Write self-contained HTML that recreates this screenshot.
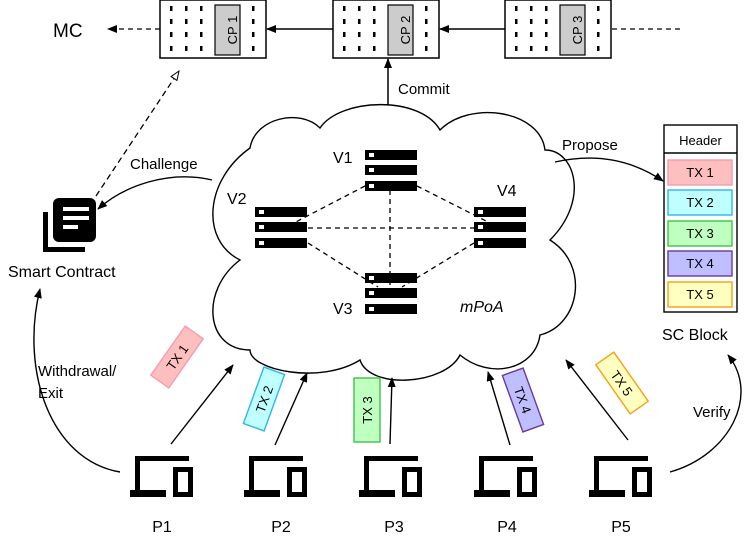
<!DOCTYPE html>
<html><head><meta charset="utf-8"><style>
html,body{margin:0;padding:0;background:#fff}
svg{display:block}
text{font-family:"Liberation Sans",sans-serif;fill:#000}
</style></head><body>
<svg width="748" height="546" viewBox="0 0 748 546" xmlns="http://www.w3.org/2000/svg">
<defs>
<marker id="a" markerWidth="10" markerHeight="8" refX="9" refY="4" orient="auto" markerUnits="userSpaceOnUse"><path d="M0,0 L10,4 L0,8 Z" fill="#000"/></marker>
<marker id="o" markerWidth="11" markerHeight="9" refX="10" refY="4.5" orient="auto" markerUnits="userSpaceOnUse"><path d="M1,1 L10,4.5 L1,8 Z" fill="#fff" stroke="#000"/></marker>
<g id="blk">
<rect x="0" y="0" width="106" height="58" fill="#fff" stroke="#000" stroke-width="1.5"/>
<g fill="#000">
<rect x="10" y="6" width="2.5" height="5"/><rect x="25" y="6" width="2.5" height="5"/><rect x="40" y="6" width="2.5" height="5"/><rect x="92" y="6" width="2.5" height="5"/>
<rect x="10" y="19" width="2.5" height="5"/><rect x="25" y="19" width="2.5" height="5"/><rect x="40" y="19" width="2.5" height="5"/><rect x="92" y="19" width="2.5" height="5"/>
<rect x="10" y="32" width="2.5" height="5"/><rect x="25" y="32" width="2.5" height="5"/><rect x="40" y="32" width="2.5" height="5"/><rect x="92" y="32" width="2.5" height="5"/>
<rect x="10" y="46" width="2.5" height="5"/><rect x="25" y="46" width="2.5" height="5"/><rect x="40" y="46" width="2.5" height="5"/><rect x="92" y="46" width="2.5" height="5"/>
</g>
<rect x="55" y="5" width="25" height="50" fill="#ccc" stroke="#000" stroke-width="1.2"/>
</g>
<g id="srv">
<rect x="0" y="0" width="52" height="10" fill="#000"/><rect x="4" y="3" width="5" height="4" fill="#fff"/>
<rect x="0" y="15" width="52" height="10" fill="#000"/><rect x="4" y="18" width="5" height="4" fill="#fff"/>
<rect x="0" y="31" width="52" height="10" fill="#000"/><rect x="4" y="34" width="5" height="4" fill="#fff"/>
</g>
<g id="lap">
<rect x="5" y="0" width="5" height="38" fill="#000"/>
<rect x="5" y="0" width="54" height="5" fill="#000"/>
<rect x="0" y="34" width="36" height="7" fill="#000"/>
<rect x="45.5" y="13.5" width="15" height="25" fill="#fff" stroke="#000" stroke-width="5"/>
</g>
</defs>

<use href="#blk" x="160" y="0"/>
<use href="#blk" x="333" y="0"/>
<use href="#blk" x="505" y="0"/>
<g font-size="13" text-anchor="middle">
<text transform="translate(232,30) rotate(-90)" dy="5">CP 1</text>
<text transform="translate(405,30) rotate(-90)" dy="5">CP 2</text>
<text transform="translate(577,30) rotate(-90)" dy="5">CP 3</text>
</g>
<line x1="680" y1="29" x2="611" y2="29" stroke="#000" stroke-width="1.2" stroke-dasharray="5,4"/>
<line x1="505" y1="29" x2="440" y2="29" stroke="#000" stroke-width="1.5" marker-end="url(#a)"/>
<line x1="333" y1="29" x2="267" y2="29" stroke="#000" stroke-width="1.5" marker-end="url(#a)"/>
<line x1="160" y1="29" x2="108" y2="29" stroke="#000" stroke-width="1.3" stroke-dasharray="5,4" marker-end="url(#a)"/>
<text x="53" y="37" font-size="19">MC</text>
<line x1="96" y1="196" x2="179" y2="71" stroke="#000" stroke-width="1.3" stroke-dasharray="6,4" marker-end="url(#o)"/>

<line x1="388" y1="112" x2="388" y2="59" stroke="#000" stroke-width="1.5" marker-end="url(#a)"/>
<text x="398" y="94" font-size="15">Commit</text>

<path d="M250,148 C255,118 300,108 320,128 C340,98 420,95 440,130 C470,100 540,110 545,150 C575,150 590,200 550,240 C590,265 580,325 540,335 C535,370 490,380 460,355 C445,385 370,390 360,360 C320,385 250,370 250,350 C205,350 200,290 240,260 C200,240 205,180 250,148 Z" fill="#fff" stroke="#000" stroke-width="1.4"/>

<g stroke="#000" stroke-width="1.3" stroke-dasharray="5,4" fill="none">
<line x1="390" y1="190" x2="390" y2="285"/>
<line x1="308" y1="228" x2="474" y2="228"/>
<line x1="365" y1="186" x2="290" y2="225"/>
<line x1="417" y1="186" x2="492" y2="224"/>
<line x1="308" y1="243" x2="378" y2="287"/>
<line x1="474" y1="243" x2="402" y2="287"/>
</g>
<use href="#srv" x="365" y="150"/>
<use href="#srv" x="255" y="207"/>
<use href="#srv" x="474" y="207"/>
<use href="#srv" x="365" y="273"/>
<g font-size="16">
<text x="333" y="163">V1</text>
<text x="227" y="204">V2</text>
<text x="497" y="196">V4</text>
<text x="333" y="314">V3</text>
<text x="460" y="312" font-style="italic">mPoA</text>
</g>

<rect x="43" y="212" width="5" height="40" fill="#000"/>
<rect x="43" y="247" width="42" height="5" fill="#000"/>
<rect x="53" y="198" width="43" height="44" rx="6" fill="#000"/>
<rect x="63" y="207" width="26" height="4" fill="#fff"/>
<rect x="63" y="216" width="26" height="4" fill="#fff"/>
<rect x="63" y="225" width="15" height="4" fill="#fff"/>
<text x="8" y="277" font-size="16">Smart Contract</text>

<path d="M212,180 C170,170 125,185 98,209" fill="none" stroke="#000" stroke-width="1.4" marker-end="url(#a)"/>
<text x="130" y="169" font-size="15">Challenge</text>
<path d="M555,162 C600,152 635,162 663,181" fill="none" stroke="#000" stroke-width="1.4" marker-end="url(#a)"/>
<text x="562" y="150" font-size="15">Propose</text>

<rect x="664" y="125" width="73" height="187" fill="#fff" stroke="#000" stroke-width="1.4"/>
<line x1="664" y1="153" x2="737" y2="153" stroke="#000" stroke-width="1.4"/>
<text x="700.5" y="145" font-size="13" text-anchor="middle">Header</text>
<g stroke-width="1.4" font-size="13">
<rect x="668" y="160" width="64" height="25" fill="#ffbfbf" stroke="#f19db4"/>
<rect x="668" y="190" width="64" height="25" fill="#bfffff" stroke="#31b5ef"/>
<rect x="668" y="221" width="64" height="25" fill="#bfffbf" stroke="#3fc24a"/>
<rect x="668" y="251" width="64" height="25" fill="#bfbfff" stroke="#6a3a9a"/>
<rect x="668" y="282" width="64" height="25" fill="#ffffbf" stroke="#f6a019"/>
</g>
<g font-size="13" text-anchor="middle">
<text x="700" y="177">TX 1</text>
<text x="700" y="207">TX 2</text>
<text x="700" y="238">TX 3</text>
<text x="700" y="268">TX 4</text>
<text x="700" y="299">TX 5</text>
</g>
<text x="662" y="340" font-size="16">SC Block</text>

<path d="M120,472 C50,460 20,370 40,289" fill="none" stroke="#000" stroke-width="1.4" marker-end="url(#a)"/>
<text x="38" y="376" font-size="15">Withdrawal/</text>
<text x="38" y="398" font-size="15">Exit</text>
<path d="M670,472 C730,455 760,395 728,355" fill="none" stroke="#000" stroke-width="1.4" marker-end="url(#a)"/>
<text x="693" y="417" font-size="15">Verify</text>

<use href="#lap" x="130" y="456"/>
<use href="#lap" x="244" y="456"/>
<use href="#lap" x="359" y="456"/>
<use href="#lap" x="474" y="456"/>
<use href="#lap" x="589" y="456"/>
<g font-size="16" text-anchor="middle">
<text x="162" y="532">P1</text>
<text x="281" y="532">P2</text>
<text x="394" y="532">P3</text>
<text x="507" y="532">P4</text>
<text x="621" y="532">P5</text>
</g>

<g stroke="#000" stroke-width="1.4" marker-end="url(#a)">
<line x1="171" y1="444" x2="233" y2="365"/>
<line x1="275" y1="445" x2="307" y2="373"/>
<line x1="390" y1="444" x2="392" y2="378"/>
<line x1="510" y1="445" x2="488" y2="372"/>
<line x1="628" y1="440" x2="566" y2="360"/>
</g>
<g font-size="13" text-anchor="middle" stroke-width="1.4">
<g transform="translate(177,357) rotate(-55)"><rect x="-30" y="-11" width="60" height="22" fill="#ffbfbf" stroke="#f19db4"/><text y="5" stroke="none">TX 1</text></g>
<g transform="translate(264,399) rotate(-70)"><rect x="-30" y="-11" width="60" height="22" fill="#bfffff" stroke="#31b5ef"/><text y="5" stroke="none">TX 2</text></g>
<g transform="translate(367,410) rotate(-90)"><rect x="-32" y="-13" width="64" height="26" fill="#bfffbf" stroke="#3fc24a"/><text y="5" stroke="none">TX 3</text></g>
<g transform="translate(523,400) rotate(70)"><rect x="-30" y="-11" width="60" height="22" fill="#bfbfff" stroke="#6a3a9a"/><text y="5" stroke="none">TX 4</text></g>
<g transform="translate(622,383) rotate(55)"><rect x="-30" y="-11" width="60" height="22" fill="#ffffbf" stroke="#f6a019"/><text y="5" stroke="none">TX 5</text></g>
</g>
</svg>
</body></html>
